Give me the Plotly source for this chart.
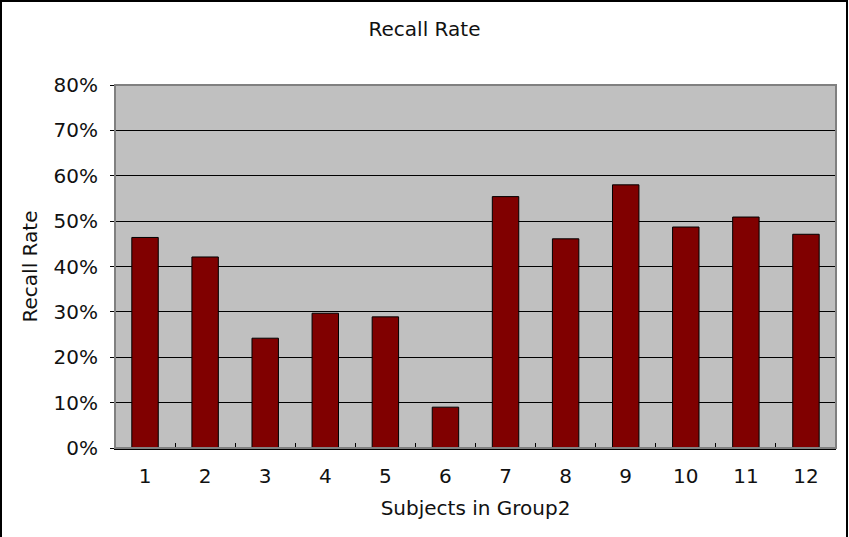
import plotly.graph_objects as go

# Recall rate per subject in group 2
subjects = ["1", "2", "3", "4", "5", "6", "7", "8", "9", "10", "11", "12"]
recall_rate = [0.464, 0.421, 0.242, 0.297, 0.289, 0.090, 0.554, 0.461, 0.580, 0.487, 0.509, 0.471]
y_ticks = [0.0, 0.1, 0.2, 0.3, 0.4, 0.5, 0.6, 0.7, 0.8]

W, H = 849, 537
ML, MR, MT, MB = 115, 13, 85, 89
PW, PH = W - ML - MR, H - MT - MB

FONT = "DejaVu Sans"
FS = 20

fig = go.Figure(
    go.Bar(
        x=subjects,
        y=recall_rate,
        marker=dict(color="#800000", line=dict(color="#000000", width=1)),
        hoverinfo="x+y",
    )
)

fig.update_layout(
    width=W,
    height=H,
    margin=dict(l=ML, r=MR, t=MT, b=MB, pad=0),
    paper_bgcolor="#ffffff",
    plot_bgcolor="#c0c0c0",
    bargap=0.56,
    showlegend=False,
    font=dict(family=FONT, size=FS, color="#111111"),
    title=dict(
        text="Recall Rate",
        x=0.5,
        xref="container",
        xanchor="center",
        y=1 - 29 / H,
        yref="container",
        yanchor="middle",
        font=dict(family=FONT, size=FS, color="#111111"),
    ),
    xaxis=dict(
        type="category",
        tickson="boundaries",
        ticks="inside",
        ticklen=5,
        tickcolor="#000000",
        tickwidth=1,
        showline=True,
        linecolor="#000000",
        linewidth=2,
        showgrid=False,
        ticklabelstandoff=9,
        tickfont=dict(family=FONT, size=FS),
        title=dict(text="Subjects in Group2", standoff=14, font=dict(family=FONT, size=FS)),
    ),
    yaxis=dict(
        range=[0, 0.8],
        tickvals=y_ticks,
        tickformat=".0%",
        ticks="outside",
        ticklen=4,
        tickcolor="#000000",
        showline=True,
        linecolor="#000000",
        linewidth=1,
        showgrid=True,
        gridcolor="#000000",
        gridwidth=1,
        zeroline=False,
        ticklabelstandoff=8,
        tickfont=dict(family=FONT, size=FS),
        title=dict(text="Recall Rate", standoff=10, font=dict(family=FONT, size=FS)),
    ),
    shapes=[
        # gray outline of the plot area (top and right edges)
        dict(
            type="rect", xref="paper", yref="paper", x0=0, x1=1, y0=0, y1=1,
            line=dict(color="#808080", width=2), layer="above",
        ),
        # black frame around the whole chart
        dict(
            type="rect", xref="paper", yref="paper",
            x0=(1 - ML) / PW, x1=(W - 2 - ML) / PW,
            y0=-(MB + 2) / PH, y1=(PH + MT - 1) / PH,
            line=dict(color="#000000", width=2), layer="above",
        ),
    ],
)

fig.write_html("out.html")
